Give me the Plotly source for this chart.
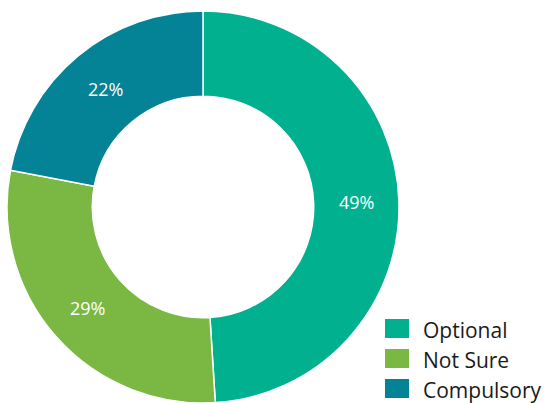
import math
import plotly.graph_objects as go

# Survey response shares
labels = ["Optional", "Not Sure", "Compulsory"]
values = [49, 29, 22]
colors = ["#00B08E", "#7AB843", "#048296"]

W, H = 556, 403

# Donut geometry in pixels (centre, outer radius, hole fraction)
cx, cy, r_out = 203, 207, 196
hole = 0.565

fig = go.Figure()
fig.add_trace(go.Pie(
    labels=labels,
    values=values,
    hole=hole,
    sort=False,
    direction="clockwise",
    rotation=0,
    marker=dict(colors=colors, line=dict(color="white", width=1.5)),
    textinfo="none",
    domain=dict(x=[(cx - r_out) / W, (cx + r_out) / W],
                y=[1 - (cy + r_out) / H, 1 - (cy - r_out) / H]),
    showlegend=False,
    hoverinfo="label+percent",
))

annotations, shapes = [], []

# Percentage labels placed at the middle of each ring segment
total = sum(values)
r_mid = r_out * (1 + hole) / 2
cum = 0
for v in values:
    mid = (cum + v / 2) / total * 2 * math.pi
    cum += v
    px = cx + r_mid * math.sin(mid)
    py = cy - r_mid * math.cos(mid)
    annotations.append(dict(
        xref="paper", yref="paper",
        x=px / W, y=1 - py / H,
        xanchor="center", yanchor="middle",
        text=f"{round(v / total * 100)}%", showarrow=False,
        font=dict(family="Open Sans", size=18, color="white"),
    ))

# Legend with large square swatches
sw_x0, sw_x1 = 385, 409
row_top, row_h, sw_h = 319, 30, 19
for i, (lab, col) in enumerate(zip(labels, colors)):
    y0 = row_top + i * row_h
    shapes.append(dict(
        type="rect", xref="paper", yref="paper",
        x0=sw_x0 / W, x1=sw_x1 / W,
        y0=1 - (y0 + sw_h) / H, y1=1 - y0 / H,
        fillcolor=col, line=dict(width=0),
    ))
    annotations.append(dict(
        xref="paper", yref="paper",
        x=421 / W, y=1 - (y0 + sw_h / 2 + 1) / H,
        xanchor="left", yanchor="middle",
        text=lab, showarrow=False,
        font=dict(family="Open Sans", size=21, color="#1a1a1a"),
    ))

fig.update_layout(
    width=W, height=H,
    margin=dict(l=0, r=0, t=0, b=0),
    paper_bgcolor="white",
    plot_bgcolor="white",
    shapes=shapes,
    annotations=annotations,
)

fig.write_html("out.html")
